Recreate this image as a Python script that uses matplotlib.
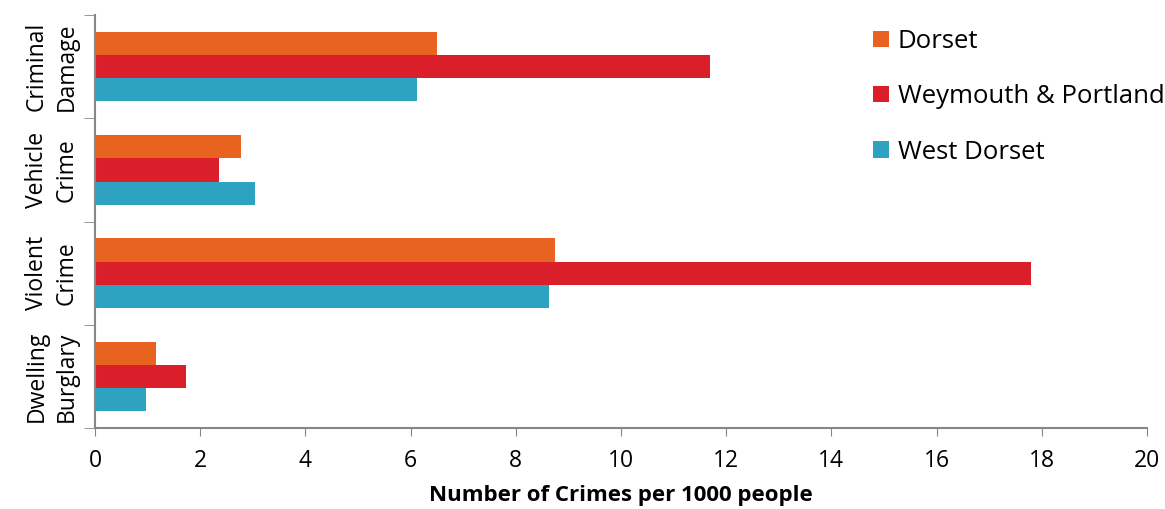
import numpy as np
import matplotlib.pyplot as plt
from matplotlib.patches import Patch

# === Data ===
CATEGORIES = ["Criminal\nDamage", "Vehicle\nCrime", "Violent\nCrime", "Dwelling\nBurglary"]
SERIES = ["Dorset", "Weymouth & Portland", "West Dorset"]
DORSET = [6.51, 2.77, 8.75, 1.17]
WEYMOUTH = [11.70, 2.36, 17.79, 1.74]
WEST_DORSET = [6.12, 3.05, 8.63, 0.97]
COLORS = ["#E8631F", "#DA1F2B", "#2DA3C1"]

plt.rcParams["font.family"] = ["Open Sans", "DejaVu Sans"]

fig = plt.figure(figsize=(11.65, 5.09), dpi=100)
ax = fig.add_axes([0.0815, 0.159, 0.903, 0.8115])

n = len(CATEGORIES)
y = np.arange(n)
height = 0.225
values = [DORSET, WEYMOUTH, WEST_DORSET]
for i, (vals, col) in enumerate(zip(values, COLORS)):
    ax.barh(y + (i - 1) * height, vals, height, color=col, edgecolor="none")

ax.set_ylim(n - 0.5, -0.5)
ax.set_xlim(0, 20)
ax.set_xticks(np.arange(0, 21, 2))
ax.tick_params(axis="x", labelsize=16.5, length=6, color="#868686", pad=9)

# category labels, no ticks; boundaries as minor ticks
ax.set_yticks(y)
ax.set_yticklabels(CATEGORIES, rotation=90, va="center", ha="center",
                   fontsize=16.5, linespacing=1.35)
ax.tick_params(axis="y", which="major", length=0, pad=31)
ax.set_yticks(np.arange(-0.5, n, 1), minor=True)
ax.tick_params(axis="y", which="minor", length=8, color="#868686")

for side in ["top", "right"]:
    ax.spines[side].set_visible(False)
for side in ["left", "bottom"]:
    ax.spines[side].set_color("#868686")
    ax.spines[side].set_linewidth(1.5)

ax.set_xlabel("Number of Crimes per 1000 people", fontsize=16,
              fontweight="bold", labelpad=9)

handles = [Patch(facecolor=c, edgecolor="none") for c in COLORS]
ax.legend(handles, SERIES, loc="upper left", bbox_to_anchor=(0.718, 1.022),
          frameon=False, fontsize=18.5, handlelength=0.6, handleheight=0.6,
          handletextpad=0.35, labelspacing=1.18)

fig.savefig("out.png", dpi=100)
